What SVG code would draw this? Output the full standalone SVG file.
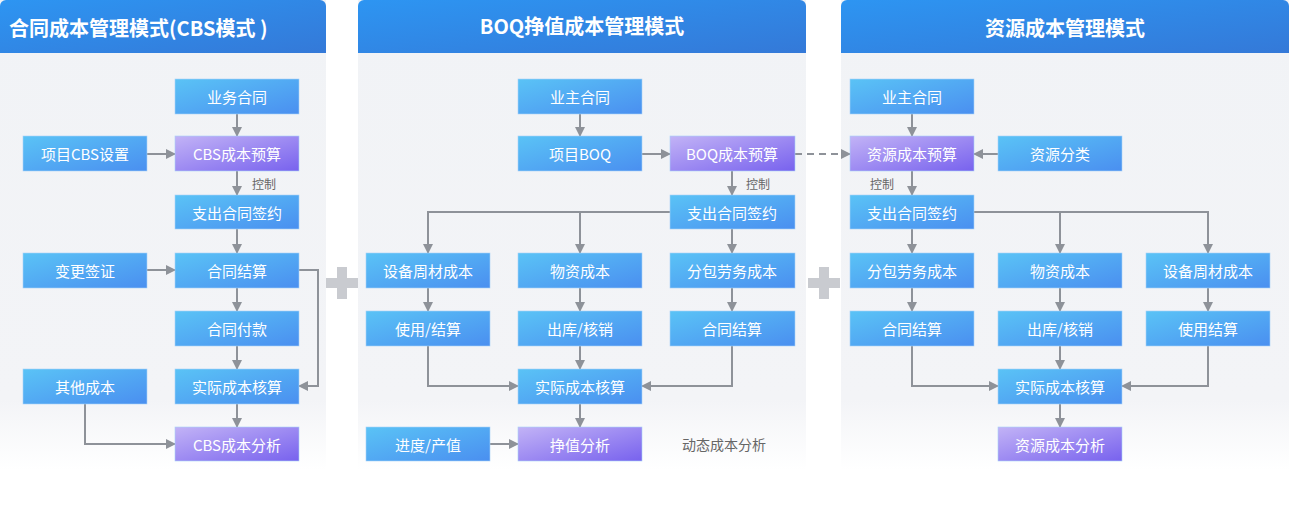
<svg xmlns="http://www.w3.org/2000/svg" width="1289" height="512" viewBox="0 0 1289 512">
<defs>
<linearGradient id="bg" x1="0" y1="0" x2="0" y2="1"><stop offset="0" stop-color="#f1f3f6"/><stop offset="0.85" stop-color="#f3f4f7"/><stop offset="1" stop-color="#ffffff"/></linearGradient>
<linearGradient id="hd" x1="0" y1="0" x2="1" y2="1"><stop offset="0" stop-color="#2d95f2"/><stop offset="1" stop-color="#3479d8"/></linearGradient>
<linearGradient id="bl" x1="0" y1="0" x2="1" y2="1"><stop offset="0" stop-color="#5ac3f6"/><stop offset="1" stop-color="#4a8ff0"/></linearGradient>
<linearGradient id="pu" x1="0" y1="0" x2="1" y2="1"><stop offset="0" stop-color="#c2b3f6"/><stop offset="1" stop-color="#7862ee"/></linearGradient>
<marker id="ar" viewBox="0 0 10 10" refX="9" refY="5" markerWidth="10" markerHeight="10" markerUnits="userSpaceOnUse" orient="auto"><path d="M0,0 L10,5 L0,10 z" fill="#8e9299"/></marker>
<style>
.n{stroke:#a8d2f7;stroke-width:0.6}
.t{font-family:"Noto Sans CJK SC","Noto Sans",sans-serif;font-size:15px;fill:#fff;text-anchor:middle;dominant-baseline:central}
.h{font-family:"Noto Sans CJK SC","Noto Sans",sans-serif;font-size:20px;font-weight:bold;fill:#fff;dominant-baseline:central}
.c{fill:none;stroke:#8e9299;stroke-width:2}
.a{marker-end:url(#ar)}
.l{font-family:"Noto Sans CJK SC","Noto Sans",sans-serif;font-size:12px;fill:#666;dominant-baseline:central}
</style>
</defs>
<rect width="1289" height="512" fill="#fff"/>
<g id="panels">
<rect x="0" y="0" width="326" height="470" fill="url(#bg)"/>
<rect x="358" y="0" width="448" height="470" fill="url(#bg)"/>
<rect x="841" y="0" width="448" height="470" fill="url(#bg)"/>
<path d="M0,6 a6,6 0 0 1 6,-6 H320 a6,6 0 0 1 6,6 V53 H0z" fill="url(#hd)"/>
<path d="M358,6 a6,6 0 0 1 6,-6 H800 a6,6 0 0 1 6,6 V53 H358z" fill="url(#hd)"/>
<path d="M841,6 a6,6 0 0 1 6,-6 H1283 a6,6 0 0 1 6,6 V53 H841z" fill="url(#hd)"/>
<text class="h" x="9" y="27">合同成本管理模式(CBS模式 )</text>
<text class="h" x="582" y="25" text-anchor="middle">BOQ挣值成本管理模式</text>
<text class="h" x="1065" y="27" text-anchor="middle">资源成本管理模式</text>
<path d="M337,267 h10 v11 h11 v10 h-11 v11 h-10 v-11 h-11 v-10 h11z" fill="#c9cbd0"/>
<path d="M819,267 h10 v11 h11 v10 h-11 v11 h-10 v-11 h-11 v-10 h11z" fill="#c9cbd0"/>
</g>
<g id="connectors">
<path class="c a" d="M237,114 V136"/>
<path class="c a" d="M147,154 H175"/>
<path class="c a" d="M237,171 V195"/>
<path class="c a" d="M237,229 V253"/>
<path class="c a" d="M147,270 H175"/>
<path class="c a" d="M237,288 V311"/>
<path class="c a" d="M237,346 V369"/>
<path class="c a" d="M237,404 V427"/>
<path class="c a" d="M299,270 H318 V386 H299"/>
<path class="c a" d="M85,404 V444 H175"/>
<path class="c a" d="M580,114 V136"/>
<path class="c a" d="M642,154 H670"/>
<path class="c a" d="M732,171 V195"/>
<path class="c a" d="M670,212 H428 V253"/>
<path class="c a" d="M580,212 V253"/>
<path class="c a" d="M732,229 V253"/>
<path class="c a" d="M428,288 V311"/>
<path class="c a" d="M580,288 V311"/>
<path class="c a" d="M732,288 V311"/>
<path class="c a" d="M428,346 V386 H518"/>
<path class="c a" d="M580,346 V369"/>
<path class="c a" d="M732,346 V386 H642"/>
<path class="c a" d="M580,404 V427"/>
<path class="c a" d="M490,444 H518"/>
<path class="c a" d="M795,154 H850" stroke-dasharray="7,5"/>
<path class="c a" d="M912,114 V136"/>
<path class="c a" d="M998,154 H974"/>
<path class="c a" d="M912,171 V195"/>
<path class="c a" d="M912,229 V253"/>
<path class="c a" d="M974,212 H1208 V253"/>
<path class="c a" d="M1060,212 V253"/>
<path class="c a" d="M912,288 V311"/>
<path class="c a" d="M1060,288 V311"/>
<path class="c a" d="M1208,288 V311"/>
<path class="c a" d="M912,346 V386 H998"/>
<path class="c a" d="M1060,346 V369"/>
<path class="c a" d="M1208,346 V386 H1122"/>
<path class="c a" d="M1060,404 V427"/>
<text class="l" x="252" y="183">控制</text>
<text class="l" x="746" y="183">控制</text>
<text class="l" x="870" y="183">控制</text>
<text class="l" x="682" y="444" style="font-size:14px">动态成本分析</text>
</g>
<g id="n1"><rect class="n" x="175" y="79" width="124" height="35" fill="url(#bl)"/><text class="t" x="237" y="96.5">业务合同</text></g>
<g id="n2"><rect class="n" x="23" y="136" width="124" height="35" fill="url(#bl)"/><text class="t" x="85" y="153.5">项目CBS设置</text></g>
<g id="n3"><rect class="n" x="175" y="136" width="124" height="35" fill="url(#pu)"/><text class="t" x="237" y="153.5">CBS成本预算</text></g>
<g id="n4"><rect class="n" x="175" y="195" width="124" height="34" fill="url(#bl)"/><text class="t" x="237" y="212">支出合同签约</text></g>
<g id="n5"><rect class="n" x="23" y="253" width="124" height="35" fill="url(#bl)"/><text class="t" x="85" y="270.5">变更签证</text></g>
<g id="n6"><rect class="n" x="175" y="253" width="124" height="35" fill="url(#bl)"/><text class="t" x="237" y="270.5">合同结算</text></g>
<g id="n7"><rect class="n" x="175" y="311" width="124" height="35" fill="url(#bl)"/><text class="t" x="237" y="328.5">合同付款</text></g>
<g id="n8"><rect class="n" x="23" y="369" width="124" height="35" fill="url(#bl)"/><text class="t" x="85" y="386.5">其他成本</text></g>
<g id="n9"><rect class="n" x="175" y="369" width="124" height="35" fill="url(#bl)"/><text class="t" x="237" y="386.5">实际成本核算</text></g>
<g id="n10"><rect class="n" x="175" y="427" width="124" height="34" fill="url(#pu)"/><text class="t" x="237" y="444">CBS成本分析</text></g>
<g id="m1"><rect class="n" x="518" y="79" width="124" height="35" fill="url(#bl)"/><text class="t" x="580" y="96.5">业主合同</text></g>
<g id="m2"><rect class="n" x="518" y="136" width="124" height="35" fill="url(#bl)"/><text class="t" x="580" y="153.5">项目BOQ</text></g>
<g id="m3"><rect class="n" x="670" y="136" width="125" height="35" fill="url(#pu)"/><text class="t" x="732" y="153.5">BOQ成本预算</text></g>
<g id="m4"><rect class="n" x="670" y="195" width="125" height="34" fill="url(#bl)"/><text class="t" x="732" y="212">支出合同签约</text></g>
<g id="m5"><rect class="n" x="366" y="253" width="124" height="35" fill="url(#bl)"/><text class="t" x="428" y="270.5">设备周材成本</text></g>
<g id="m6"><rect class="n" x="518" y="253" width="124" height="35" fill="url(#bl)"/><text class="t" x="580" y="270.5">物资成本</text></g>
<g id="m7"><rect class="n" x="670" y="253" width="125" height="35" fill="url(#bl)"/><text class="t" x="732" y="270.5">分包劳务成本</text></g>
<g id="m8"><rect class="n" x="366" y="311" width="124" height="35" fill="url(#bl)"/><text class="t" x="428" y="328.5">使用/结算</text></g>
<g id="m9"><rect class="n" x="518" y="311" width="124" height="35" fill="url(#bl)"/><text class="t" x="580" y="328.5">出库/核销</text></g>
<g id="m10"><rect class="n" x="670" y="311" width="125" height="35" fill="url(#bl)"/><text class="t" x="732" y="328.5">合同结算</text></g>
<g id="m11"><rect class="n" x="518" y="369" width="124" height="35" fill="url(#bl)"/><text class="t" x="580" y="386.5">实际成本核算</text></g>
<g id="m12"><rect class="n" x="366" y="427" width="124" height="34" fill="url(#bl)"/><text class="t" x="428" y="444">进度/产值</text></g>
<g id="m13"><rect class="n" x="518" y="427" width="124" height="34" fill="url(#pu)"/><text class="t" x="580" y="444">挣值分析</text></g>
<g id="r1"><rect class="n" x="850" y="79" width="124" height="35" fill="url(#bl)"/><text class="t" x="912" y="96.5">业主合同</text></g>
<g id="r2"><rect class="n" x="850" y="136" width="124" height="35" fill="url(#pu)"/><text class="t" x="912" y="153.5">资源成本预算</text></g>
<g id="r3"><rect class="n" x="998" y="136" width="124" height="35" fill="url(#bl)"/><text class="t" x="1060" y="153.5">资源分类</text></g>
<g id="r4"><rect class="n" x="850" y="195" width="124" height="34" fill="url(#bl)"/><text class="t" x="912" y="212">支出合同签约</text></g>
<g id="r5"><rect class="n" x="850" y="253" width="124" height="35" fill="url(#bl)"/><text class="t" x="912" y="270.5">分包劳务成本</text></g>
<g id="r6"><rect class="n" x="998" y="253" width="124" height="35" fill="url(#bl)"/><text class="t" x="1060" y="270.5">物资成本</text></g>
<g id="r7"><rect class="n" x="1146" y="253" width="124" height="35" fill="url(#bl)"/><text class="t" x="1208" y="270.5">设备周材成本</text></g>
<g id="r8"><rect class="n" x="850" y="311" width="124" height="35" fill="url(#bl)"/><text class="t" x="912" y="328.5">合同结算</text></g>
<g id="r9"><rect class="n" x="998" y="311" width="124" height="35" fill="url(#bl)"/><text class="t" x="1060" y="328.5">出库/核销</text></g>
<g id="r10"><rect class="n" x="1146" y="311" width="124" height="35" fill="url(#bl)"/><text class="t" x="1208" y="328.5">使用结算</text></g>
<g id="r11"><rect class="n" x="998" y="369" width="124" height="35" fill="url(#bl)"/><text class="t" x="1060" y="386.5">实际成本核算</text></g>
<g id="r12"><rect class="n" x="998" y="427" width="124" height="34" fill="url(#pu)"/><text class="t" x="1060" y="444">资源成本分析</text></g>
</svg>
